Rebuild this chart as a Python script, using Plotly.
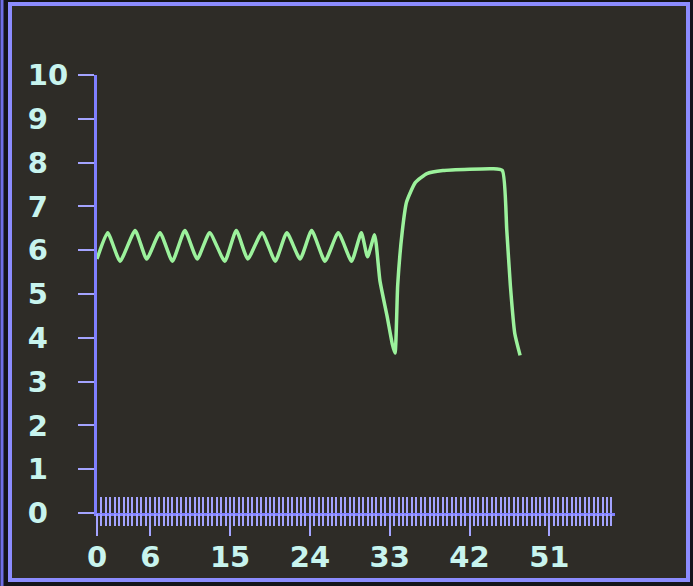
import plotly.graph_objects as go

# ---- data ----
x_vals = [0.0, 1.2, 2.6, 4.3, 5.6, 7.1, 8.5, 9.9, 11.3, 12.7, 14.4, 15.7, 17.0,
          18.6, 20.1, 21.4, 22.9, 24.2, 25.7, 27.2, 28.7, 29.8, 30.5, 31.3,
          31.9, 32.7, 33.3, 33.6, 33.9, 34.4, 34.9, 35.9, 37.2, 39.0, 42.0,
          44.6, 45.7, 46.2, 46.6, 47.1, 47.7]
y_vals = [5.8, 6.4, 5.75, 6.45, 5.8, 6.4, 5.75, 6.45, 5.8, 6.4, 5.75, 6.45, 5.8,
          6.4, 5.75, 6.4, 5.8, 6.45, 5.75, 6.4, 5.75, 6.4, 5.85, 6.35,
          5.3, 4.5, 3.85, 3.65, 5.2, 6.4, 7.1, 7.55, 7.75, 7.82, 7.85,
          7.86, 7.82, 6.45, 5.2, 4.1, 3.6]

x_tick_vals = [0, 6, 15, 24, 33, 42, 51]
x_tick_text = ["0", "6", "15", "24", "33", "42", "51"]
y_tick_vals = [0, 1, 2, 3, 4, 5, 6, 7, 8, 9, 10]
y_tick_text = ["0", "1", "2", "3", "4", "5", "6", "7", "8", "9", "10"]

X_RANGE = [0, 58.4]
Y_RANGE = [0, 10]

# ---- style ----
BG_OUT = "#14141b"
BG_IN = "#2e2c27"
AXIS = "#7f7fff"
TICK = "#a4a4ff"
LABEL = "#c8f4ee"
TRACE = "#9cf29c"
FONT = dict(family="DejaVu Sans", size=29, color=LABEL, weight="bold")

# pad single-digit labels (figure space) so they stay left-aligned like the screen font
y_text_padded = [t if len(t) > 1 else t + "\u2007" for t in y_tick_text]

fig = go.Figure()
fig.add_trace(go.Scatter(x=x_vals, y=y_vals, mode="lines",
                         line=dict(color=TRACE, width=3.5, shape="spline", smoothing=0.5),
                         hoverinfo="skip", showlegend=False))
# same data on overlaying axes that only carry the tick combs
for ax in ("x2", "x3"):
    fig.add_trace(go.Scatter(x=x_vals, y=y_vals, mode="lines", xaxis=ax,
                             line=dict(color="rgba(0,0,0,0)", width=0),
                             hoverinfo="skip", showlegend=False))

comb = dict(range=X_RANGE, overlaying="x", anchor="y", side="bottom",
            showgrid=False, zeroline=False, showline=False,
            showticklabels=False, tickmode="linear", tick0=0, dtick=0.5,
            tickwidth=2, tickcolor=TICK)

fig.update_layout(
    width=693, height=586,
    margin=dict(l=97, r=78, t=75, b=73),
    paper_bgcolor=BG_OUT,
    plot_bgcolor="rgba(0,0,0,0)",
    xaxis=dict(range=X_RANGE, showgrid=False, zeroline=False,
               showline=True, linecolor=AXIS, linewidth=3,
               tickmode="array", tickvals=x_tick_vals, ticktext=x_tick_text,
               ticks="outside", ticklen=20, tickwidth=2, tickcolor=TICK,
               tickfont=FONT, ticklabelstandoff=-4),
    xaxis2=dict(comb, ticks="inside", ticklen=16),
    xaxis3=dict(comb, ticks="outside", ticklen=12),
    yaxis=dict(range=Y_RANGE, showgrid=False, zeroline=False,
               showline=True, linecolor=AXIS, linewidth=3,
               tickmode="array", tickvals=y_tick_vals, ticktext=y_text_padded,
               ticks="outside", ticklen=16, tickwidth=2, tickcolor=TICK,
               tickfont=FONT, ticklabelstandoff=4),
    shapes=[
        dict(type="rect", xref="paper", yref="paper", layer="below",
             x0=(10 - 97) / 518, x1=(688 - 97) / 518,
             y0=(513 - 580) / 438, y1=(513 - 4) / 438,
             line=dict(color="#8c8cff", width=4), fillcolor=BG_IN),
        dict(type="line", xref="paper", yref="paper", layer="below",
             x0=(2 - 97) / 518, x1=(2 - 97) / 518,
             y0=(513 - 586) / 438, y1=(513 - 0) / 438,
             line=dict(color="#6f6fe6", width=3)),
    ],
)

fig.write_html("out.html", config={"displayModeBar": False},
               post_script="document.body.style.margin='0';")
